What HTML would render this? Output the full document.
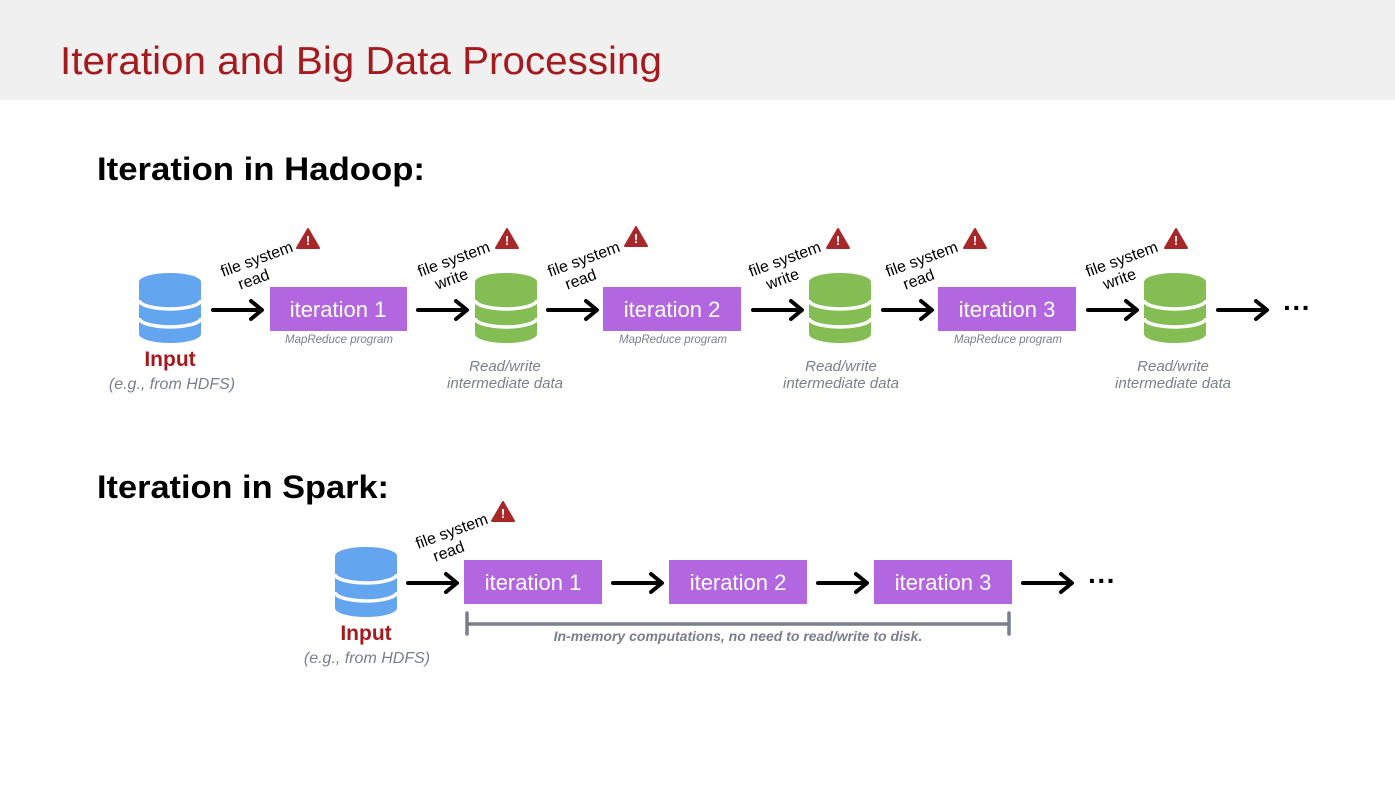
<!DOCTYPE html>
<html><head><meta charset="utf-8"><style>
html,body{margin:0;padding:0;background:#fff;}
body{width:1395px;height:799px;overflow:hidden;font-family:"Liberation Sans","DejaVu Sans",sans-serif;}
</style></head><body>
<svg width="1395" height="799" viewBox="0 0 1395 799" xmlns="http://www.w3.org/2000/svg" font-family="Liberation Sans, DejaVu Sans, sans-serif">
<defs>
<g id="cyl">
<path d="M-31,-26 A31,9 0 0 1 31,-26 L31,26 A31,9 0 0 1 -31,26 Z"/>
<path d="M-31,-8 A31,9 0 0 0 31,-8 M-31,10 A31,9 0 0 0 31,10" fill="none" stroke="#fff" stroke-width="3.5"/>
</g>
<g id="arr" fill="none" stroke="#000" stroke-width="4" stroke-linecap="round" stroke-linejoin="round">
<path d="M0,0 H48 M38,-9 L49,0 L38,9"/>
</g>
<g id="warn">
<path d="M0,-10 L11,9 L-11,9 Z" fill="#a8282a" stroke="#a8282a" stroke-width="2" stroke-linejoin="round"/>
<text x="0" y="6" font-size="13" font-weight="bold" fill="#fff" text-anchor="middle">!</text>
</g>
</defs>
<rect x="0" y="0" width="1395" height="100" fill="#f0f0f0"/>
<text x="60" y="74" font-size="39" fill="#a31a1f" textLength="602" lengthAdjust="spacingAndGlyphs">Iteration and Big Data Processing</text>
<text x="97" y="180" font-size="32" font-weight="bold" fill="#000" textLength="328" lengthAdjust="spacingAndGlyphs">Iteration in Hadoop:</text>
<text x="97" y="498" font-size="32" font-weight="bold" fill="#000" textLength="292" lengthAdjust="spacingAndGlyphs">Iteration in Spark:</text>

<!-- Hadoop -->
<use href="#cyl" x="170" y="308" fill="#64a5f0"/>
<text x="170" y="366" font-size="21" font-weight="bold" fill="#a31a1f" text-anchor="middle">Input</text>
<text x="172" y="389" font-size="16" font-style="italic" fill="#7a7f8a" text-anchor="middle">(e.g., from HDFS)</text>

<use href="#arr" x="213" y="310"/>
<use href="#arr" x="418" y="310"/>
<use href="#arr" x="548" y="310"/>
<use href="#arr" x="753" y="310"/>
<use href="#arr" x="883" y="310"/>
<use href="#arr" x="1088" y="310"/>
<use href="#arr" x="1218" y="310"/>
<text x="1297" y="317" font-size="28" font-weight="bold" text-anchor="middle">···</text>

<g fill="#b266e0">
<rect x="270" y="287" width="137" height="44"/>
<rect x="603" y="287" width="138" height="44"/>
<rect x="938" y="287" width="138" height="44"/>
</g>
<g fill="#fff" font-size="22" text-anchor="middle">
<text x="338" y="317">iteration 1</text>
<text x="672" y="317">iteration 2</text>
<text x="1007" y="317">iteration 3</text>
</g>
<g fill="#7a7f8a" font-size="11.5" font-style="italic" text-anchor="middle">
<text x="339" y="343">MapReduce program</text>
<text x="673" y="343">MapReduce program</text>
<text x="1008" y="343">MapReduce program</text>
</g>
<use href="#cyl" x="506" y="308" fill="#84bd53"/>
<use href="#cyl" x="840" y="308" fill="#84bd53"/>
<use href="#cyl" x="1175" y="308" fill="#84bd53"/>
<g fill="#7a7f8a" font-size="15" font-style="italic" text-anchor="middle">
<text x="505" y="371">Read/write</text><text x="505" y="388">intermediate data</text>
<text x="841" y="371">Read/write</text><text x="841" y="388">intermediate data</text>
<text x="1173" y="371">Read/write</text><text x="1173" y="388">intermediate data</text>
</g>
<g font-size="16" fill="#000">
<g transform="translate(223,277) rotate(-20)"><text>file system</text><text x="12" y="18">read</text></g>
<g transform="translate(420,277) rotate(-20)"><text>file system</text><text x="12" y="18">write</text></g>
<g transform="translate(550,277) rotate(-20)"><text>file system</text><text x="12" y="18">read</text></g>
<g transform="translate(751,277) rotate(-20)"><text>file system</text><text x="12" y="18">write</text></g>
<g transform="translate(888,277) rotate(-20)"><text>file system</text><text x="12" y="18">read</text></g>
<g transform="translate(1088,277) rotate(-20)"><text>file system</text><text x="12" y="18">write</text></g>
<g transform="translate(418,549) rotate(-20)"><text>file system</text><text x="12" y="18">read</text></g>
</g>
<use href="#warn" x="308" y="239"/>
<use href="#warn" x="507" y="239"/>
<use href="#warn" x="636" y="237"/>
<use href="#warn" x="838" y="239"/>
<use href="#warn" x="975" y="239"/>
<use href="#warn" x="1176" y="239"/>
<use href="#warn" x="503" y="512"/>

<!-- Spark -->
<use href="#cyl" x="366" y="582" fill="#64a5f0"/>
<text x="366" y="640" font-size="21" font-weight="bold" fill="#a31a1f" text-anchor="middle">Input</text>
<text x="367" y="663" font-size="16" font-style="italic" fill="#7a7f8a" text-anchor="middle">(e.g., from HDFS)</text>
<use href="#arr" x="408" y="583"/>
<use href="#arr" x="613" y="583"/>
<use href="#arr" x="818" y="583"/>
<use href="#arr" x="1023" y="583"/>
<text x="1102" y="590" font-size="28" font-weight="bold" text-anchor="middle">···</text>
<g fill="#b266e0">
<rect x="464" y="560" width="138" height="44"/>
<rect x="669" y="560" width="138" height="44"/>
<rect x="874" y="560" width="138" height="44"/>
</g>
<g fill="#fff" font-size="22" text-anchor="middle">
<text x="533" y="590">iteration 1</text>
<text x="738" y="590">iteration 2</text>
<text x="943" y="590">iteration 3</text>
</g>
<g stroke="#7a7f8a" stroke-width="3.5" stroke-linecap="round" fill="none">
<path d="M467,624 H1009 M467,613 V634 M1009,613 V634"/>
</g>
<text x="738" y="641" font-size="14" font-weight="bold" font-style="italic" fill="#7a7f8a" text-anchor="middle">In-memory computations, no need to read/write to disk.</text>
</svg>
</body></html>
